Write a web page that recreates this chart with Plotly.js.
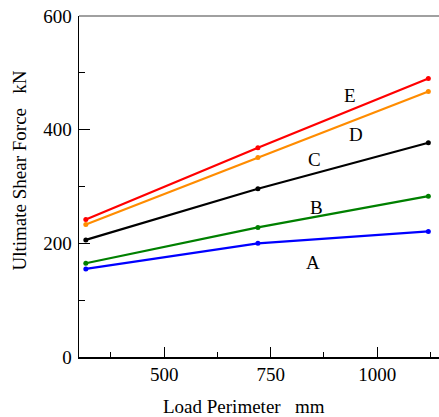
<!DOCTYPE html>
<html>
<head>
<meta charset="utf-8">
<script src="https://cdn.plot.ly/plotly-3.0.1.min.js"></script>
<style>html,body{margin:0;padding:0;background:#fff;overflow:hidden}#chart{width:439px;height:417px}</style>
</head>
<body>
<div id="chart"></div>
<script>
const perimeter = [316, 720, 1120];
const seriesNames = ["A", "B", "C", "D", "E"];
const seriesA = [155, 200, 221];
const seriesB = [165, 228, 283];
const seriesC = [206, 296, 377];
const seriesD = [233, 351, 467];
const seriesE = [242, 368, 490];
const seriesColors = ["#0000ff", "#008000", "#000000", "#ff8c00", "#ff0000"];
const labelX = [850, 858, 852, 949, 936];
const labelY = [166, 263, 347, 391, 460];
const xTickVals = [500, 750, 1000];
const yTickVals = [0, 200, 400, 600];
const xTitle = "Load Perimeter\u00a0\u00a0\u00a0mm";
const yTitle = "Ultimate Shear Force\u00a0\u00a0\u00a0kN";

const allSeries = [seriesA, seriesB, seriesC, seriesD, seriesE];
const font = "'Liberation Serif', 'Times New Roman', serif";
const fs = 19;

const traces = allSeries.map((vals, i) => ({
  x: perimeter, y: vals, type: "scatter", mode: "lines+markers",
  name: seriesNames[i],
  line: {color: seriesColors[i], width: 2.2},
  marker: {color: seriesColors[i], size: 5},
  cliponaxis: false, showlegend: false
}));

const L = 79, T = 16, W = 360, H = 341;
const annotations = seriesNames.map((n, i) => ({
  x: labelX[i], y: labelY[i], xref: "x", yref: "y", text: n, showarrow: false,
  xanchor: "center", yanchor: "middle",
  font: {family: font, size: fs, color: "#000"}
}));
annotations.push({xref: "paper", yref: "paper", x: (244 - L) / W, y: 1 - (406 - T) / H,
  xanchor: "center", yanchor: "middle", text: xTitle, showarrow: false,
  font: {family: font, size: fs, color: "#000"}});
annotations.push({xref: "paper", yref: "paper", x: (18.5 - L) / W, y: 1 - (171 - T) / H,
  xanchor: "center", yanchor: "middle", text: yTitle, showarrow: false, textangle: -90,
  font: {family: font, size: fs, color: "#000"}});

const layout = {
  width: 439, height: 417,
  margin: {l: L, r: 0, t: T, b: 417 - T - H},
  paper_bgcolor: "#fff", plot_bgcolor: "#fff",
  font: {family: font, size: fs, color: "#000"},
  xaxis: {
    range: [300, 1145], tickvals: xTickVals, ticks: "inside", ticklen: 10, tickwidth: 1,
    tickcolor: "#000", showline: true, linecolor: "#000", linewidth: 1.5,
    showgrid: false, zeroline: false,
    minor: {tickvals: [375, 625, 875, 1125], ticks: "inside", ticklen: 5, tickcolor: "#000", showgrid: false},
    tickfont: {family: font, size: fs, color: "#000"}
  },
  yaxis: {
    range: [0, 600], tickvals: yTickVals, ticks: "inside", ticklen: 11, tickwidth: 1,
    tickcolor: "#000", showline: true, linecolor: "#000", linewidth: 1.5,
    showgrid: false, zeroline: false, ticklabelstandoff: 2,
    minor: {tickvals: [100, 300, 500], ticks: "inside", ticklen: 6, tickcolor: "#000", showgrid: false},
    tickfont: {family: font, size: fs, color: "#000"}
  },
  shapes: [{type: "line", xref: "paper", yref: "paper", x0: 0, x1: 1, y0: 1, y1: 1,
    line: {color: "#808080", width: 1.5}}],
  annotations: annotations
};
Plotly.newPlot("chart", traces, layout, {displayModeBar: false, staticPlot: true});
</script>
</body>
</html>
